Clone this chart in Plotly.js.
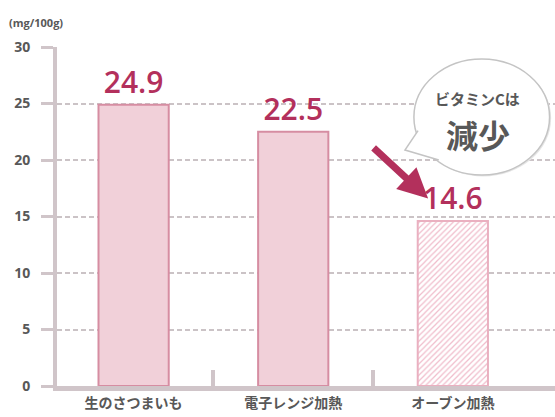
<!DOCTYPE html>
<html>
<head>
<meta charset="utf-8">
<script src="https://cdn.plot.ly/plotly-3.0.1.min.js"></script>
<style>
  html, body { margin: 0; padding: 0; background: #fff; }
  #chart { width: 555px; height: 417px; }
</style>
</head>
<body>
<div id="chart"></div>
<script>
// ビタミンC量 (mg/100g)
const categories = ['生のさつまいも', '電子レンジ加熱', 'オーブン加熱'];
const vitaminC = [24.9, 22.5, 14.6];
const yTicks = [0, 5, 10, 15, 20, 25, 30];
const unitLabel = '(mg/100g)';
const bubbleSmall = 'ビタミンCは';
const bubbleBig = '減少';

const axisGray = '#d0c5c9';
const textGray = '#585858';
const crimson = '#b3305c';
const jpFont = '"Noto Sans CJK JP", "Noto Sans", sans-serif';
const valueFont = { family: '"Open Sans", sans-serif', size: 30, color: crimson, weight: 600 };

// 生・電子レンジ (塗りつぶし)
const solidBars = {
    x: categories.slice(0, 2),
    y: vitaminC.slice(0, 2),
    type: 'bar',
    width: 0.44,
    marker: {
        color: '#f1d0d9',
        line: { color: '#d68da2', width: 2 }
    },
    text: vitaminC.slice(0, 2).map(v => v.toFixed(1)),
    textposition: 'outside',
    textfont: valueFont,
    cliponaxis: false,
    hoverinfo: 'skip'
};

// オーブン (斜線)
const hatchBar = {
    x: categories.slice(2),
    y: vitaminC.slice(2),
    type: 'bar',
    width: 0.44,
    marker: {
        color: '#ffffff',
        line: { color: '#eab0c0', width: 2 },
        pattern: {
            shape: '/',
            fgcolor: '#f0bccb',
            bgcolor: '#ffffff',
            fillmode: 'replace',
            size: 4,
            solidity: 0.3
        }
    },
    text: vitaminC.slice(2).map(v => v.toFixed(1)),
    textposition: 'outside',
    textfont: valueFont,
    cliponaxis: false,
    hoverinfo: 'skip'
};

// dummy trace so that the boundary tick axis is drawn
const boundaryTrace = {
    x: [0.5, 1.5],
    y: [0, 0],
    xaxis: 'x2',
    type: 'scatter',
    mode: 'markers',
    marker: { opacity: 0 },
    hoverinfo: 'skip',
    showlegend: false
};

const layout = {
    width: 555,
    height: 417,
    margin: { l: 57, r: 0, t: 47, b: 31 },
    paper_bgcolor: '#ffffff',
    plot_bgcolor: '#ffffff',
    showlegend: false,
    barmode: 'overlay',
    font: { family: jpFont, color: textGray },
    xaxis: {
        type: 'category',
        categoryarray: categories,
        range: [-0.48, 2.64],
        showline: true,
        linecolor: axisGray,
        linewidth: 5,
        showgrid: false,
        ticks: '',
        tickfont: { family: jpFont, size: 14, color: textGray, weight: 'bold' },
        fixedrange: true
    },
    xaxis2: {
        overlaying: 'x',
        anchor: 'y',
        side: 'bottom',
        range: [-0.48, 2.64],
        tickvals: [0.5, 1.5],
        ticks: 'inside',
        ticklen: 16,
        tickwidth: 4,
        tickcolor: axisGray,
        showticklabels: false,
        showgrid: false,
        showline: false,
        zeroline: false
    },
    yaxis: {
        range: [0, 30],
        tickvals: yTicks,
        ticks: 'outside',
        ticklen: 12,
        tickwidth: 3,
        tickcolor: axisGray,
        ticklabelstandoff: 8,
        showline: true,
        linecolor: axisGray,
        linewidth: 4,
        showgrid: true,
        gridcolor: '#cbc3c6',
        gridwidth: 2,
        griddash: '5px,3px',
        zeroline: false,
        tickfont: { family: '"Open Sans", sans-serif', size: 14, color: textGray, weight: 'bold' },
        fixedrange: true
    },
    shapes: [
        // speech bubble shadow
        {
            type: 'circle', xref: 'x', yref: 'y',
            x0: 1.766, x1: 2.616, y0: 18.55, y1: 28.85,
            fillcolor: '#e6e6e6', line: { width: 0 }
        },
        // speech bubble
        {
            type: 'circle', xref: 'x', yref: 'y',
            x0: 1.756, x1: 2.606, y0: 18.67, y1: 28.94,
            fillcolor: '#ffffff', line: { color: '#c4c4c4', width: 1.5 }
        },
        // bubble tail
        {
            type: 'path', xref: 'x', yref: 'y',
            path: 'M 1.782,22.6 L 1.70,20.88 L 1.912,20.0',
            fillcolor: '#ffffff', line: { color: '#c4c4c4', width: 1.5 }
        }
    ],
    annotations: [
        {
            text: unitLabel,
            xref: 'paper', yref: 'paper',
            x: 0, y: 1, xanchor: 'left', yanchor: 'bottom',
            xshift: -50, yshift: 15,
            showarrow: false,
            font: { family: '"Open Sans", sans-serif', size: 11, color: textGray, weight: 'bold' }
        },
        {
            text: bubbleSmall,
            xref: 'x', yref: 'y',
            x: 2.156, y: 25.4,
            showarrow: false,
            font: { family: jpFont, size: 15, color: textGray, weight: 'bold' }
        },
        {
            text: bubbleBig,
            xref: 'x', yref: 'y',
            x: 2.156, y: 22.3,
            showarrow: false,
            font: { family: jpFont, size: 32, color: textGray, weight: 'bold' }
        },
        {
            text: '',
            xref: 'x', yref: 'y',
            x: 1.845, y: 16.6,
            ax: -56, ay: -52,
            showarrow: true,
            arrowhead: 2,
            arrowsize: 0.85,
            arrowwidth: 7,
            arrowcolor: crimson
        }
    ]
};

Plotly.newPlot('chart', [solidBars, hatchBar, boundaryTrace], layout, { displayModeBar: false, staticPlot: true });
</script>
</body>
</html>
